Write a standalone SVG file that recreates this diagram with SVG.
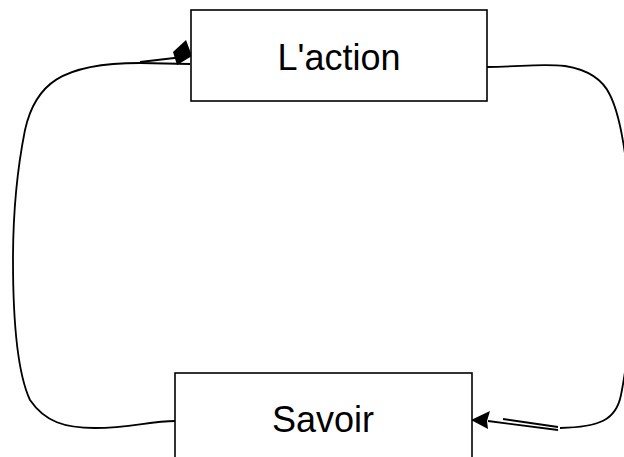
<svg xmlns="http://www.w3.org/2000/svg" width="624" height="457" viewBox="0 0 624 457">
<style>
.box{fill:#fff;stroke:#000;stroke-width:1.6}
.lbl{font-family:"Liberation Sans",Arial,sans-serif;font-size:36px;fill:#000;text-anchor:middle}
.c{fill:none;stroke:#000;stroke-width:1.8}
</style>
<rect width="624" height="457" fill="#fff"/>
<g id="connectors">
<path class="c" d="M175,421 C150,421 130,428 95,428 C65,428 45,422 30,400 C16,370 13,310 13,260 C13,220 17,170 25,130 C35,85 60,63 140,63 L190,64"/>
<path class="c" d="M140,62 L183,57"/>
<polygon points="186,40 192,56 177,65 173,52" fill="#000"/>
<path class="c" d="M487,67 C520,67 540,63 565,66 C590,70 603,80 610,95 C625,125 632,200 632,260 C632,320 628,360 621,395 C616,420 600,427 560,428"/>
<path class="c" d="M488,421 L558,430"/>
<path class="c" d="M503,419 L558,427"/>
<polygon points="471,420 490,411 487,421 488,429" fill="#000"/>
</g>
<g id="node-action">
<rect class="box" x="191" y="10" width="296" height="91"/>
<text class="lbl" x="339" y="70">L'action</text>
</g>
<g id="node-savoir">
<rect class="box" x="175" y="373" width="297" height="100"/>
<text class="lbl" x="323" y="432">Savoir</text>
</g>
</svg>
